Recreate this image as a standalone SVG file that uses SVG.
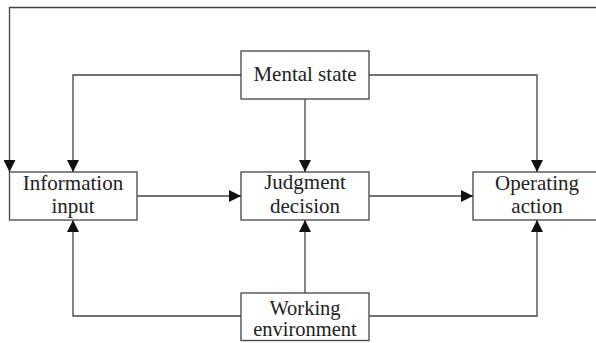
<svg xmlns="http://www.w3.org/2000/svg" width="596" height="343" viewBox="0 0 596 343">
<style>
.box{fill:#fff;stroke:#444;stroke-width:1.3}
.c{fill:none;stroke:#444;stroke-width:1.3}
.t{font-family:"Liberation Serif","Times New Roman",serif;font-size:21px;fill:#222;text-anchor:middle}
</style>
<defs>
<marker id="ah" markerUnits="userSpaceOnUse" markerWidth="12" markerHeight="12" viewBox="0 0 12 12" refX="12" refY="6" orient="auto">
<path d="M0,0 L12,6 L0,12 Z" fill="#111"/>
</marker>
</defs>
<rect width="596" height="343" fill="#fff"/>
<g id="connectors">
<path class="c" d="M596 7.5 H9.5 V172" marker-end="url(#ah)"/>
<path class="c" d="M241 75 H73 V172" marker-end="url(#ah)"/>
<path class="c" d="M305 99 V172" marker-end="url(#ah)"/>
<path class="c" d="M369 75 H537 V172" marker-end="url(#ah)"/>
<path class="c" d="M137 196 H241" marker-end="url(#ah)"/>
<path class="c" d="M369 196 H473" marker-end="url(#ah)"/>
<path class="c" d="M241 316 H73 V220" marker-end="url(#ah)"/>
<path class="c" d="M305 293 V220" marker-end="url(#ah)"/>
<path class="c" d="M369 316 H537 V220" marker-end="url(#ah)"/>
</g>
<g id="mental">
<rect class="box" x="241" y="51" width="128" height="48"/>
<text class="t" x="305" y="81">Mental state</text>
</g>
<g id="info">
<rect class="box" x="9.5" y="172" width="127.5" height="48"/>
<text class="t" x="73" y="190">Information</text>
<text class="t" x="73" y="213">input</text>
</g>
<g id="judgment">
<rect class="box" x="241" y="172" width="128" height="48"/>
<text class="t" x="305" y="189">Judgment</text>
<text class="t" x="305" y="213">decision</text>
</g>
<g id="operating">
<rect class="box" x="473" y="172" width="130" height="48"/>
<text class="t" x="537" y="190">Operating</text>
<text class="t" x="537" y="213">action</text>
</g>
<g id="working">
<rect class="box" x="241" y="293" width="128" height="47.5"/>
<text class="t" x="305" y="315" style="font-size:20.5px">Working</text>
<text class="t" x="305" y="336" style="font-size:20.5px">environment</text>
</g>
</svg>
